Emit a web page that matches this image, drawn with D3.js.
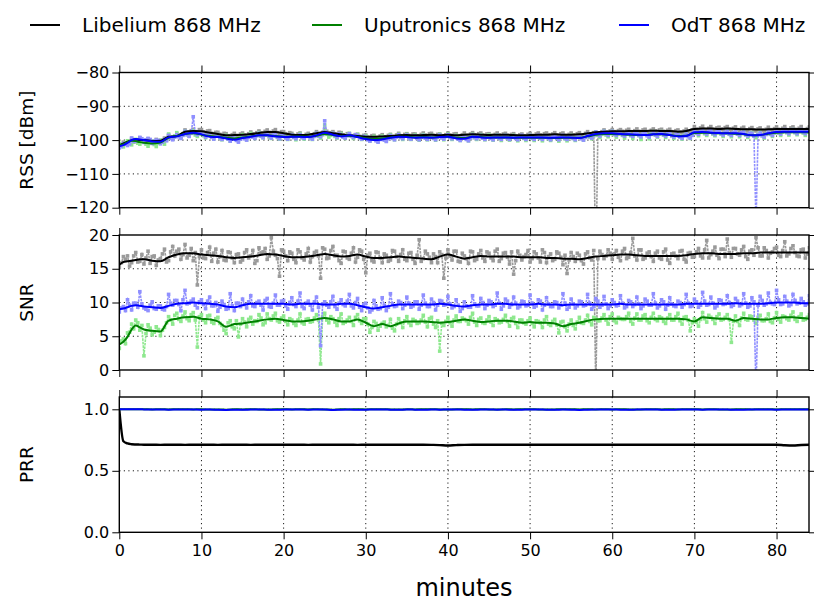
<!DOCTYPE html>
<html><head><meta charset="utf-8">
<script src="https://cdn.jsdelivr.net/npm/d3@7"></script>
<style>body{margin:0;background:#fff}svg text{font-family:"DejaVu Sans",sans-serif;fill:#000}</style>
</head><body><svg id="c" width="814" height="601"></svg>
<script>
// ---------- DATA ----------
const seriesNames = ["Libelium 868 MHz", "Uputronics 868 MHz", "OdT 868 MHz"];
const xTicks = [0, 10, 20, 30, 40, 50, 60, 70, 80];
const rssTicks = [-120, -110, -100, -90, -80];
const snrTicks = [0, 5, 10, 15, 20];
const prrTicks = [0.0, 0.5, 1.0];

// times (minutes) of the smoothed curves
const lineT = [0,0.5,1,1.5,2,2.5,3,4,5,6,7,8,9,10,11,12,13,14,15,16,17,18,19,20,21,22,23,24,25,26,27,28,29,30,31,32,33,34,35,36,37,38,39,40,41,42,43,44,45,46,47,48,49,50,51,52,53,54,55,56,57,58,59,60,61,62,63,64,65,66,67,68,69,70,71,72,73,74,75,76,77,78,79,80,81,82,83,84];

// smoothed RSS [dBm]
const rssLib = [-101.5,-101.0,-100.5,-100.0,-99.8,-100.0,-100.0,-100.3,-100.2,-99.0,-98.8,-97.5,-97.3,-97.4,-97.8,-98.2,-98.6,-98.5,-98.4,-98.2,-97.9,-97.6,-97.6,-98.0,-98.4,-98.5,-98.4,-98.0,-97.6,-98.0,-98.3,-98.6,-98.8,-99.0,-99.0,-98.9,-98.8,-98.6,-98.5,-98.6,-98.5,-98.4,-98.6,-98.4,-98.6,-98.4,-98.3,-98.4,-98.5,-98.4,-98.4,-98.5,-98.6,-98.5,-98.4,-98.4,-98.3,-98.4,-98.4,-98.3,-98.0,-97.7,-97.5,-97.4,-97.4,-97.3,-97.3,-97.3,-97.2,-97.3,-97.3,-97.5,-97.3,-96.7,-96.6,-96.6,-96.7,-96.6,-96.7,-96.8,-96.8,-96.9,-96.8,-96.7,-96.7,-96.7,-96.7,-96.7];
const rssUpu = [-101.5,-101.2,-100.6,-100.2,-100.3,-100.6,-100.8,-101.0,-100.7,-99.3,-98.8,-98.2,-98.0,-98.4,-98.8,-99.0,-99.3,-99.5,-99.2,-98.9,-98.6,-98.6,-98.8,-99.0,-99.0,-98.9,-99.0,-98.7,-98.2,-98.5,-98.8,-98.7,-99.0,-99.5,-99.7,-99.5,-99.2,-99.0,-99.0,-99.2,-99.1,-99.2,-99.1,-99.0,-99.3,-99.4,-99.0,-99.1,-99.2,-99.2,-99.2,-99.3,-99.3,-99.3,-99.3,-99.3,-99.4,-99.3,-99.3,-99.3,-98.9,-98.4,-98.2,-98.2,-98.3,-98.4,-98.5,-98.5,-98.3,-98.3,-98.5,-98.8,-98.7,-97.9,-97.8,-97.9,-98.0,-98.0,-98.1,-98.3,-98.6,-98.5,-98.1,-97.8,-97.7,-97.7,-97.7,-97.7];
const rssOdt = [-101.8,-101.5,-100.8,-100.0,-99.7,-99.8,-100.0,-100.4,-100.5,-99.2,-98.9,-98.2,-97.8,-98.3,-99.0,-99.1,-99.5,-99.9,-99.4,-99.0,-98.6,-98.6,-98.9,-99.1,-99.0,-99.0,-99.1,-98.6,-97.8,-98.4,-98.9,-98.6,-99.1,-99.7,-100.0,-99.8,-99.3,-99.0,-99.1,-99.3,-99.2,-99.3,-99.1,-99.0,-99.5,-99.6,-99.0,-99.2,-99.3,-99.2,-99.2,-99.3,-99.2,-99.2,-99.2,-99.3,-99.3,-99.2,-99.3,-99.4,-98.8,-98.2,-98.0,-98.0,-98.2,-98.3,-98.4,-98.5,-98.3,-98.2,-98.5,-98.9,-98.8,-97.7,-97.6,-97.8,-97.9,-98.0,-98.0,-98.2,-98.6,-98.5,-98.0,-97.6,-97.5,-97.5,-97.5,-97.5];

// smoothed SNR
const snrLib = [15.6,16.0,16.1,16.2,16.3,16.4,16.4,16.2,16.1,16.7,17.1,17.3,17.3,17.1,17.0,16.9,16.7,16.6,16.7,16.8,17.0,17.2,17.1,16.9,16.7,16.7,16.8,17.0,17.2,17.0,16.8,16.9,17.1,16.8,16.6,16.6,16.7,16.8,16.7,16.6,16.5,16.4,16.8,17.1,16.8,16.5,16.7,16.9,16.8,16.8,16.8,16.8,16.7,16.7,16.7,16.6,16.6,16.5,16.5,16.4,16.6,16.8,16.9,17.0,17.1,17.1,17.0,16.9,16.9,16.9,16.9,16.9,17.0,17.2,17.3,17.3,17.2,17.2,17.2,17.3,17.3,17.4,17.4,17.4,17.4,17.4,17.4,17.4];
const snrUpu = [3.8,4.2,4.9,6.0,6.6,6.3,6.0,5.8,5.7,7.3,7.6,7.8,7.9,7.6,7.5,7.2,6.4,6.8,6.9,7.1,7.3,7.5,7.6,7.4,7.2,7.2,7.3,7.5,7.7,7.5,7.2,7.2,7.5,7.0,6.5,6.8,6.5,6.9,7.2,7.2,7.2,7.1,7.0,7.1,7.3,7.5,7.3,7.1,7.2,7.3,7.3,7.2,7.0,7.1,7.0,7.0,6.9,6.5,6.8,7.0,7.3,7.5,7.6,7.6,7.6,7.6,7.6,7.6,7.6,7.6,7.6,7.6,7.5,7.2,7.8,7.7,7.6,7.6,7.3,7.7,7.6,7.5,7.5,7.7,7.8,7.8,7.7,7.6];
const snrOdt = [9.0,9.1,9.3,9.5,9.6,9.5,9.4,9.3,9.2,9.5,9.8,9.9,10.0,9.9,9.8,9.7,9.4,9.3,9.6,9.8,9.8,9.8,9.8,9.8,9.7,9.8,9.8,9.8,9.7,9.7,9.8,9.8,9.6,9.3,9.1,9.3,9.5,9.7,9.7,9.7,9.7,9.7,9.8,9.7,9.5,9.4,9.6,9.7,9.7,9.8,9.8,9.7,9.7,9.7,9.8,9.7,9.7,9.6,9.7,9.7,9.7,9.7,9.7,9.7,9.8,9.7,9.7,9.7,9.7,9.7,9.7,9.7,9.8,9.8,9.8,9.8,9.8,9.8,9.9,9.8,9.8,9.8,9.9,10.0,10.0,10.0,9.9,9.9];

// smoothed PRR
const prrLib = [1.0,0.74,0.722,0.716,0.714,0.713,0.712,0.712,0.711,0.712,0.712,0.711,0.712,0.712,0.712,0.711,0.712,0.712,0.712,0.711,0.712,0.712,0.712,0.712,0.712,0.712,0.711,0.712,0.712,0.712,0.712,0.712,0.711,0.712,0.712,0.712,0.712,0.712,0.712,0.712,0.712,0.711,0.709,0.706,0.709,0.711,0.712,0.712,0.712,0.712,0.712,0.712,0.712,0.712,0.712,0.712,0.712,0.712,0.712,0.712,0.712,0.712,0.712,0.712,0.712,0.712,0.712,0.712,0.712,0.712,0.712,0.712,0.712,0.712,0.712,0.712,0.712,0.712,0.712,0.712,0.712,0.712,0.712,0.712,0.708,0.706,0.710,0.712];
const prrUpu = [1.0,1.0,1.0,1.0,1.0,1.0,1.0,0.999,1.0,0.999,1.0,1.0,0.999,1.0,0.998,0.999,0.997,1.0,0.999,1.0,0.999,0.998,1.0,1.0,0.999,1.0,0.999,1.0,0.999,0.997,1.0,0.999,1.0,0.999,1.0,1.0,0.999,0.998,1.0,0.999,1.0,1.0,0.999,0.998,1.0,1.0,0.999,1.0,0.999,0.998,1.0,0.999,1.0,1.0,0.999,0.998,0.999,1.0,1.0,0.999,1.0,0.999,1.0,0.999,1.0,0.999,0.998,1.0,1.0,0.999,1.0,0.999,1.0,1.0,0.999,1.0,0.999,0.998,1.0,1.0,0.999,1.0,1.0,0.999,1.0,1.0,1.0,1.0];
const prrOdt = [1.0,1.0,1.0,1.0,1.0,1.0,0.999,0.998,0.999,0.997,0.998,0.999,0.998,0.997,0.998,0.996,0.995,0.997,0.996,0.998,0.999,0.997,0.996,0.998,0.999,0.998,0.997,0.998,0.999,0.995,0.997,0.998,0.996,0.997,0.998,0.999,0.997,0.996,0.998,0.997,0.996,0.998,0.997,0.999,0.998,0.997,0.996,0.998,0.999,0.997,0.998,0.996,0.997,0.999,0.998,0.997,0.996,0.998,0.997,0.995,0.997,0.998,0.999,0.998,0.997,0.996,0.998,0.999,0.998,0.997,0.996,0.998,0.999,0.998,0.997,0.998,0.999,0.998,0.996,0.997,0.998,0.999,0.998,0.997,0.998,0.999,0.999,0.999];

// raw samples: set A every 0.5 min from 0 to 84, set B every 0.5 min from 0.25 to 83.75
const rawStep = 0.5;
const rawOffsetB = 0.25;
const rssLibRaw = [-102.0,-100.6,-101.2,-99.5,-100.4,-99.3,-100.6,-99.6,-100.9,-99.8,
-100.6,-99.4,-98.6,-99.5,-98.2,-99.3,-97.0,-97.9,-96.8,-97.6,
-96.9,-97.8,-97.2,-98.4,-97.7,-98.8,-98.1,-99.0,-98.0,-98.9,
-97.9,-98.8,-97.6,-98.5,-97.3,-98.2,-97.0,-97.9,-96.9,-98.1,
-97.5,-98.4,-98.0,-99.0,-97.9,-98.9,-98.0,-98.7,-97.5,-98.4,
-96.9,-97.9,-97.5,-98.5,-97.8,-98.7,-98.1,-99.1,-98.3,-99.2,
-98.5,-99.4,-98.6,-99.5,-98.4,-99.3,-98.3,-99.2,-98.0,-99.0,
-98.1,-98.9,-98.2,-99.1,-97.9,-98.8,-98.0,-98.9,-98.2,-99.1,
-97.9,-98.8,-98.1,-99.0,-97.9,-98.8,-97.8,-98.7,-97.9,-98.8,
-98.1,-98.9,-97.9,-98.8,-98.0,-98.9,-98.1,-99.0,-98.2,-99.0,
-98.0,-98.9,-97.9,-98.8,-97.9,-98.7,-97.8,-98.8,-97.9,-98.8,
-97.9,-98.7,-97.8,-98.5,-97.5,-98.3,-140.0,-98.0,-97.0,-97.9,
-96.9,-97.8,-96.9,-97.7,-96.8,-97.8,-96.7,-97.6,-96.8,-97.7,
-96.7,-97.6,-96.8,-97.7,-96.8,-97.8,-97.0,-97.9,-96.8,-97.7,
-96.0,-97.1,-95.9,-97.0,-96.0,-97.1,-96.2,-97.0,-96.0,-97.1,
-96.1,-97.2,-96.2,-97.3,-96.3,-97.3,-96.4,-97.4,-96.2,-97.3,
-96.1,-97.2,-96.0,-97.1,-96.1,-97.2,-96.0,-97.1,-96.1];
const rssLibRawB = [-101.3,-100.9,-100.3,-100.6,-99.9,-100.2,-100.4,-100.1,-100.5,-100.7,
-100.0,-99.9,-99.1,-98.9,-98.6,-98.1,-97.6,-97.2,-97.5,-96.9,
-97.6,-97.3,-98.0,-97.7,-98.3,-98.0,-98.7,-98.4,-98.6,-98.2,
-98.5,-98.1,-98.2,-97.8,-97.9,-97.4,-97.7,-97.3,-97.8,-97.5,
-98.1,-97.8,-98.6,-98.2,-98.7,-98.3,-98.5,-98.1,-98.2,-97.7,
-97.4,-97.8,-98.1,-97.7,-98.4,-98.1,-98.7,-98.4,-98.9,-98.6,
-99.1,-98.7,-99.2,-98.8,-99.0,-98.6,-98.9,-98.5,-98.7,-98.3,
-98.6,-98.2,-98.7,-98.3,-98.5,-98.1,-98.6,-98.3,-98.7,-98.4,
-98.5,-98.2,-98.7,-98.4,-98.6,-98.2,-98.4,-98.1,-98.5,-98.2,
-98.6,-98.3,-98.5,-98.2,-98.6,-98.3,-98.7,-98.4,-98.7,-98.3,
-98.6,-98.2,-98.5,-98.1,-98.4,-98.2,-98.5,-98.1,-98.6,-98.3,
-98.5,-98.1,-98.4,-98.0,-98.2,-97.8,-97.9,-97.5,-97.6,-97.3,
-97.5,-97.2,-97.4,-97.1,-97.5,-97.2,-97.4,-97.0,-97.5,-97.1,
-97.3,-97.0,-97.4,-97.1,-97.5,-97.2,-97.6,-97.3,-97.5,-97.0,
-96.8,-96.4,-96.9,-96.5,-96.8,-96.4,-96.7,-96.3,-96.8,-96.5,
-96.9,-96.5,-97.0,-96.6,-97.0,-96.7,-97.1,-96.8,-96.9,-96.6,
-96.8,-96.5,-96.9,-96.4,-96.8,-96.5,-96.9,-96.6];
const rssUpuRaw = [-101.0,-102.0,-100.2,-101.4,-99.8,-101.2,-100.0,-101.8,-100.2,-101.9,
-100.0,-101.2,-98.2,-99.6,-97.8,-99.0,-97.4,-98.8,-97.2,-98.9,
-97.8,-99.3,-98.2,-99.6,-98.4,-99.9,-98.6,-100.3,-98.8,-100.2,
-98.4,-99.9,-98.0,-99.5,-97.8,-99.3,-97.9,-99.5,-98.1,-99.7,
-98.3,-99.8,-98.4,-99.9,-98.2,-99.7,-98.4,-99.8,-98.0,-99.4,
-95.5,-99.1,-98.0,-99.4,-98.1,-99.5,-98.0,-99.5,-98.3,-99.8,
-98.8,-100.3,-98.9,-100.5,-98.8,-100.2,-98.5,-99.9,-98.3,-99.8,
-98.3,-99.8,-98.5,-100.0,-98.4,-99.9,-98.6,-100.0,-98.3,-99.9,
-98.2,-99.8,-98.6,-100.1,-98.7,-100.2,-98.3,-99.8,-98.4,-99.9,
-98.5,-100.0,-98.5,-100.1,-98.6,-100.0,-98.6,-100.2,-98.7,-100.1,
-98.6,-100.1,-98.7,-100.2,-98.7,-100.1,-98.8,-100.3,-98.7,-100.2,
-98.6,-100.1,-98.7,-100.0,-98.2,-99.6,-97.7,-99.2,-97.4,-99.0,
-97.4,-99.1,-97.6,-99.4,-97.6,-99.5,-97.8,-99.8,-97.7,-99.6,
-97.5,-99.1,-97.5,-99.2,-97.8,-99.5,-98.0,-99.7,-98.0,-99.5,
-97.1,-98.7,-97.0,-98.6,-97.2,-98.7,-97.3,-98.9,-97.3,-99.0,
-97.4,-99.0,-97.5,-99.2,-97.8,-99.3,-97.7,-99.4,-97.4,-98.9,
-97.0,-98.6,-97.0,-98.5,-96.9,-98.4,-97.0,-98.6,-97.0];
const rssUpuRawB = [-101.6,-100.8,-101.0,-100.5,-100.9,-100.4,-101.2,-100.7,-101.3,-100.9,
-100.5,-99.7,-99.4,-98.8,-98.9,-98.3,-98.4,-97.8,-98.5,-98.1,
-98.7,-98.4,-99.1,-98.8,-99.4,-99.0,-99.7,-99.3,-99.6,-99.2,
-99.4,-98.9,-99.0,-98.6,-98.9,-98.5,-99.1,-98.7,-99.2,-98.8,
-99.3,-98.9,-99.2,-98.8,-99.3,-98.9,-99.2,-98.7,-98.9,-98.4,
-98.3,-98.6,-98.9,-98.5,-99.0,-98.6,-98.9,-98.5,-99.2,-98.9,
-99.7,-99.3,-99.9,-99.5,-99.6,-99.2,-99.3,-98.9,-99.2,-98.8,
-99.3,-98.9,-99.4,-99.0,-99.3,-98.9,-99.4,-99.0,-99.3,-98.9,
-99.2,-98.8,-99.5,-99.1,-99.6,-99.2,-99.3,-98.9,-99.3,-99.0,
-99.4,-99.0,-99.4,-99.1,-99.5,-99.1,-99.4,-99.0,-99.5,-99.1,
-99.5,-99.1,-99.5,-99.2,-99.6,-99.2,-99.5,-99.1,-99.6,-99.2,
-99.5,-99.1,-99.4,-99.0,-99.1,-98.7,-98.6,-98.3,-98.5,-98.1,
-98.4,-98.1,-98.6,-98.2,-98.7,-98.3,-98.7,-98.3,-98.6,-98.2,
-98.4,-98.1,-98.5,-98.2,-98.7,-98.4,-98.9,-98.6,-98.8,-98.4,
-98.0,-97.7,-98.1,-97.7,-98.2,-97.8,-98.2,-97.9,-98.3,-97.9,
-98.2,-97.9,-98.4,-98.1,-98.7,-98.3,-98.7,-98.3,-98.3,-97.9,
-97.9,-97.6,-97.8,-97.5,-97.8,-97.5,-97.9,-97.6];
const rssOdtRaw = [-102.3,-101.0,-101.6,-99.4,-100.3,-99.2,-100.7,-99.5,-101.0,-100.0,
-101.1,-99.8,-98.6,-99.9,-98.4,-99.5,-97.4,-98.9,-93.1,-98.4,
-97.8,-99.1,-98.5,-99.7,-98.6,-99.8,-99.0,-100.3,-99.4,-100.6,
-98.8,-100.0,-98.4,-99.5,-98.0,-99.3,-98.1,-99.4,-98.4,-99.6,
-98.6,-99.7,-98.5,-99.6,-98.4,-99.5,-98.6,-99.7,-98.0,-99.0,
-94.3,-98.2,-98.0,-99.2,-98.4,-99.4,-98.1,-99.2,-98.6,-99.7,
-99.1,-100.3,-99.4,-100.6,-99.2,-100.4,-98.7,-99.9,-98.4,-99.6,
-98.5,-99.7,-98.7,-99.9,-98.6,-99.8,-98.7,-99.9,-98.5,-99.7,
-98.4,-99.6,-98.9,-100.1,-99.0,-100.2,-98.4,-99.6,-98.6,-99.8,
-98.7,-99.9,-98.6,-99.8,-98.6,-99.8,-98.7,-99.9,-98.6,-99.8,
-98.6,-99.8,-98.6,-99.8,-98.7,-99.9,-98.7,-99.9,-98.6,-99.8,
-98.7,-99.9,-98.8,-100.0,-98.2,-99.4,-97.6,-98.8,-97.4,-98.6,
-97.4,-98.6,-97.6,-98.8,-97.7,-98.9,-97.8,-99.0,-97.9,-99.1,
-97.7,-98.9,-97.6,-98.8,-97.9,-99.1,-98.3,-99.5,-98.2,-99.4,
-97.1,-98.3,-97.0,-98.2,-97.2,-98.4,-97.3,-98.5,-97.4,-98.6,
-97.4,-98.6,-97.6,-98.8,-98.0,-125.0,-97.9,-99.1,-97.4,-98.6,
-97.0,-98.2,-96.9,-98.1,-96.9,-98.1,-96.9,-98.1,-96.9];
const rssOdtRawB = [-101.9,-101.2,-101.1,-100.4,-100.0,-99.6,-99.9,-99.8,-100.3,-100.1,
-100.6,-100.2,-99.5,-99.1,-99.0,-98.6,-98.4,-98.0,-98.0,-97.6,
-98.4,-98.1,-99.2,-98.8,-99.3,-98.9,-99.7,-99.3,-100.1,-99.7,
-99.6,-99.2,-99.1,-98.7,-98.8,-98.4,-98.9,-98.5,-99.1,-98.7,
-99.3,-98.9,-99.2,-98.8,-99.2,-98.8,-99.3,-98.9,-98.8,-98.3,
-97.9,-98.2,-98.6,-98.2,-99.1,-98.7,-98.8,-98.4,-99.3,-98.9,
-99.9,-99.5,-100.2,-99.8,-100.0,-99.6,-99.5,-99.1,-99.2,-98.8,
-99.3,-98.9,-99.5,-99.1,-99.4,-99.0,-99.5,-99.1,-99.3,-98.9,
-99.2,-98.8,-99.7,-99.3,-99.8,-99.4,-99.2,-98.8,-99.4,-99.0,
-99.5,-99.1,-99.4,-99.0,-99.4,-99.0,-99.5,-99.1,-99.4,-99.0,
-99.4,-99.0,-99.4,-99.0,-99.5,-99.1,-99.4,-99.0,-99.5,-99.1,
-99.5,-99.1,-99.6,-99.2,-99.0,-98.6,-98.4,-98.0,-98.2,-97.8,
-98.2,-97.8,-98.4,-98.0,-98.5,-98.1,-98.6,-98.2,-98.7,-98.3,
-98.5,-98.1,-98.4,-98.0,-98.7,-98.3,-99.1,-98.7,-99.0,-98.6,
-97.9,-97.5,-97.8,-97.4,-98.0,-97.6,-98.1,-97.7,-98.2,-97.8,
-98.2,-97.8,-98.4,-98.0,-98.8,-98.4,-98.7,-98.3,-98.2,-97.8,
-97.8,-97.4,-97.7,-97.3,-97.7,-97.3,-97.7,-97.3];

const snrLibRaw = [15.2,16.8,16.9,15.9,17.4,16.1,15.7,17.6,16.8,15.5,
16.5,17.9,16.2,18.3,17.6,16.4,18.6,17.0,16.2,12.6,
17.8,16.5,18.2,17.3,16.0,17.7,16.2,17.4,15.9,17.2,
16.3,17.8,16.9,15.8,18.1,17.5,16.4,19.6,17.0,13.9,
17.6,16.2,17.3,15.9,17.5,16.3,18.0,16.8,17.6,13.6,
17.9,16.6,18.3,17.0,15.8,17.5,16.4,18.1,16.7,17.6,
14.4,17.3,16.0,17.4,15.9,17.0,16.3,17.6,16.1,17.8,
16.2,17.4,15.8,19.3,16.5,17.2,15.9,16.8,17.5,13.6,
17.8,16.3,17.6,16.0,16.9,15.8,17.5,16.4,17.7,16.1,
17.3,16.2,17.9,16.5,17.4,15.7,14.2,17.6,16.3,17.1,
16.0,17.5,16.6,17.8,15.9,17.2,16.4,17.3,15.6,14.3,
17.4,16.1,17.0,15.7,17.5,16.3,-3.0,17.6,16.5,17.8,
16.4,17.7,16.2,18.0,16.7,19.5,16.3,17.8,16.6,17.5,
16.1,17.6,16.4,17.9,15.8,17.3,16.5,17.7,16.0,17.4,
16.8,18.0,16.6,19.2,17.1,18.2,16.5,17.9,19.4,16.7,
18.0,17.0,18.3,16.4,17.8,19.6,16.9,18.1,16.6,17.5,
18.2,16.8,19.0,17.2,18.4,16.9,17.8,16.6,18.1];
const snrLibRawB = [15.9,16.4,15.4,16.9,16.0,17.1,16.6,15.8,16.9,16.3,
17.2,16.0,17.5,16.9,17.9,17.1,16.6,18.0,17.4,16.8,
16.6,17.4,16.1,17.9,16.8,16.3,17.5,16.6,17.1,16.0,
17.4,16.6,17.7,16.2,17.3,18.0,16.9,17.6,16.5,17.8,
16.9,17.5,16.4,17.8,16.6,17.2,16.0,17.4,16.9,18.1,
16.5,17.7,16.9,16.2,17.6,16.6,17.3,16.0,17.8,16.4,
17.0,16.2,17.5,16.6,17.2,16.1,17.7,16.8,17.1,16.4,
17.3,16.4,17.0,16.1,17.6,16.7,17.2,15.9,17.1,16.6,
16.9,17.6,16.1,17.3,16.5,17.6,16.2,17.2,16.6,17.5,
16.6,17.6,16.1,17.3,16.7,17.5,16.2,17.0,16.8,17.7,
16.5,17.2,16.0,17.4,16.8,16.2,17.5,16.7,17.0,16.3,
16.8,17.3,16.2,17.2,16.6,17.7,16.5,17.1,16.9,17.3,
17.2,16.7,17.6,16.5,17.4,16.9,17.8,16.4,17.3,16.8,
17.3,16.6,17.5,16.3,17.2,16.9,17.6,16.4,17.3,16.7,
17.5,16.9,17.8,16.6,17.6,17.0,17.9,16.8,17.4,18.0,
17.2,17.8,16.8,17.6,17.0,18.1,16.9,17.7,17.3,18.0,
17.0,17.7,16.9,18.0,17.4,16.8,17.9,17.2];
const snrUpuRaw = [3.2,4.6,5.5,6.8,7.4,5.9,2.1,6.7,5.2,6.4,
5.1,6.3,7.9,6.8,8.4,7.2,8.6,7.3,8.5,3.4,
8.2,7.0,8.1,6.9,7.8,6.6,5.4,7.3,6.1,4.9,
7.6,6.4,7.8,7.3,8.2,6.7,8.3,7.4,8.4,7.1,
8.0,6.7,7.4,6.6,8.3,6.8,7.6,7.2,8.2,0.9,
8.4,7.0,7.6,6.6,8.3,7.1,7.8,6.6,8.2,6.9,
7.6,5.6,7.2,5.9,6.9,6.4,7.5,5.8,7.6,6.3,
7.9,6.6,7.3,7.0,8.1,6.4,7.8,6.3,2.8,6.6,
7.8,6.5,8.0,7.2,7.5,6.8,8.4,6.6,7.7,6.9,
7.9,6.6,7.4,7.1,8.1,6.5,7.8,6.3,7.4,6.8,
7.7,6.4,7.2,6.3,7.9,6.6,7.5,5.5,7.2,5.8,
7.4,6.1,7.8,6.9,8.1,6.7,7.6,7.3,8.2,6.8,
8.3,7.0,7.6,7.5,8.4,6.8,8.3,7.4,8.2,7.0,
8.4,7.3,7.7,6.9,8.2,7.4,8.4,6.8,7.9,5.8,
7.6,6.5,8.5,7.1,7.8,6.9,8.3,7.5,8.2,4.1,
8.0,6.6,8.4,7.4,7.9,6.9,8.1,7.3,8.3,7.0,
8.5,7.1,7.9,7.4,8.6,7.2,8.3,7.5,8.2];
const snrUpuRawB = [4.3,3.9,5.6,6.1,7.0,6.6,5.4,6.2,5.6,6.0,
5.9,7.0,7.4,8.1,7.5,8.0,7.6,8.2,7.4,7.9,
7.4,8.0,7.1,7.6,6.9,5.9,7.0,6.4,7.3,6.8,
7.1,7.5,6.8,7.2,7.7,7.0,7.6,8.0,7.3,7.7,
7.2,7.6,6.9,7.4,7.0,7.5,7.1,7.7,7.4,7.9,
7.4,7.9,7.1,7.6,6.9,7.4,7.2,7.8,7.3,7.6,
6.8,6.3,6.9,6.5,7.1,6.6,6.2,6.8,7.0,7.3,
7.0,7.5,6.9,7.4,7.1,7.6,6.8,7.3,6.9,7.2,
7.0,7.4,7.2,7.7,7.3,7.8,7.1,7.5,7.0,7.4,
7.1,7.6,7.0,7.5,7.2,7.6,6.9,7.4,7.0,7.3,
6.9,7.3,7.0,7.4,6.8,7.2,6.7,7.1,6.4,6.8,
6.6,7.1,7.0,7.4,7.2,7.8,7.3,7.7,7.4,7.9,
7.3,7.8,7.5,7.9,7.2,7.7,7.4,8.0,7.3,7.8,
7.5,7.9,7.2,7.7,7.4,7.9,7.3,7.8,7.4,7.0,
7.1,7.5,7.6,8.1,7.5,7.9,7.4,7.8,7.5,7.2,
7.2,7.7,7.5,8.0,7.4,7.8,7.3,7.6,7.2,7.7,
7.5,8.0,7.6,8.1,7.5,7.9,7.4,7.8];
const snrOdtRaw = [8.6,9.4,10.4,8.9,9.9,11.6,9.2,8.8,10.1,9.0,
9.5,8.9,11.2,9.6,10.3,8.8,11.8,9.9,10.5,9.2,
10.4,9.1,10.8,9.5,8.7,10.2,9.0,11.3,8.8,9.9,
10.5,9.2,11.0,9.4,10.2,8.9,10.6,9.3,11.1,9.6,
10.3,9.0,10.7,9.4,11.4,9.1,10.2,8.9,10.8,3.6,
10.1,9.3,10.9,9.0,10.4,9.5,11.2,9.2,10.6,8.8,
9.9,8.6,10.3,9.0,10.7,8.8,11.3,9.4,10.2,9.1,
10.8,9.3,10.1,9.0,11.1,9.4,10.5,8.9,10.3,9.6,
10.9,9.2,10.4,8.7,10.1,9.3,11.0,9.5,10.6,9.1,
10.3,9.4,11.4,9.0,10.5,9.3,10.8,9.2,10.2,9.5,
11.1,9.3,10.4,8.9,10.7,9.4,10.1,9.2,11.3,9.0,
10.5,9.2,10.2,9.5,11.2,9.0,10.6,9.3,10.9,9.1,
10.4,9.5,11.0,9.2,10.3,9.4,10.8,9.1,10.5,9.6,
11.3,9.2,10.4,9.0,10.7,9.5,10.2,9.3,11.2,9.4,
10.5,9.3,11.5,9.6,10.8,9.2,10.4,9.7,11.0,9.4,
10.6,9.5,11.3,9.3,10.7,-3.0,10.9,9.6,11.4,9.8,
11.8,9.7,10.9,9.5,11.2,9.8,10.6,9.6,11.0];
const snrOdtRawB = [9.2,8.8,9.6,9.9,9.3,9.8,9.0,9.6,9.1,9.5,
9.0,9.4,9.9,10.3,9.7,10.4,9.8,10.2,9.6,10.1,
9.7,10.2,9.5,10.0,9.3,9.7,9.1,9.5,9.9,9.4,
9.7,10.1,9.5,10.0,9.6,10.3,9.4,9.9,9.6,10.2,
9.5,10.0,9.7,10.2,9.4,9.9,9.6,10.1,9.3,9.8,
9.6,10.1,9.4,9.9,9.7,10.2,9.5,10.0,9.3,9.7,
9.2,8.9,9.5,9.1,9.6,9.3,9.8,9.5,10.0,9.6,
9.9,9.5,10.1,9.6,9.9,9.4,10.0,9.6,10.2,9.7,
9.8,9.4,9.6,9.1,9.5,9.3,9.8,9.5,10.0,9.6,
10.1,9.6,9.9,9.5,10.2,9.7,9.9,9.4,10.1,9.6,
9.9,9.5,10.2,9.6,9.8,9.4,10.0,9.6,9.9,9.3,
9.8,9.5,10.1,9.6,9.9,9.4,10.2,9.6,9.8,9.5,
10.0,9.6,9.9,9.4,10.1,9.7,9.8,9.5,10.2,9.6,
9.9,9.5,10.1,9.6,9.8,9.4,10.0,9.7,9.9,9.5,
10.1,9.6,10.2,9.7,9.9,9.5,10.3,9.8,10.0,9.6,
10.2,9.7,9.9,9.5,10.1,9.6,10.3,9.8,10.0,9.7,
10.4,9.8,10.2,9.7,10.3,9.9,10.1,9.8];

// ---------- DRAWING ----------
const svg = d3.select("#c");
const colLine = ["#000000", "#008000", "#0000ff"];
const colRaw = ["#9a9a9a", "#8ee88e", "#8f8fff"];
const x = d3.scaleLinear().domain([0, 83.95]).range([119.3, 809]);
const merge = (a, b) => a.map((v, i) => [i * rawStep, v])
  .concat(b.map((v, i) => [rawOffsetB + i * rawStep, v]))
  .sort((p, q) => p[0] - q[0]);
const minus = s => s.replace("-", "\u2212");

const panels = [
  {top: 72.5, bottom: 207.7, domain: [-120, -80], ticks: rssTicks, fmt: d => minus(String(d)), label: "RSS [dBm]",
   raw: [merge(rssLibRaw, rssLibRawB), merge(rssUpuRaw, rssUpuRawB), merge(rssOdtRaw, rssOdtRawB)], lines: [rssLib, rssUpu, rssOdt]},
  {top: 235, bottom: 370, domain: [0, 20], ticks: snrTicks, fmt: d => String(d), label: "SNR",
   raw: [merge(snrLibRaw, snrLibRawB), merge(snrUpuRaw, snrUpuRawB), merge(snrOdtRaw, snrOdtRawB)], lines: [snrLib, snrUpu, snrOdt]},
  {top: 397, bottom: 532.3, domain: [0, 1.1], ticks: prrTicks, fmt: d3.format(".1f"), label: "PRR",
   raw: null, lines: [prrLib, prrUpu, prrOdt]}
];

panels.forEach((p, pi) => {
  const y = d3.scaleLinear().domain(p.domain).range([p.bottom, p.top]);
  const g = svg.append("g");
  const cid = "clip" + pi;
  svg.append("clipPath").attr("id", cid).append("rect")
    .attr("x", x.range()[0]).attr("y", p.top).attr("width", x.range()[1] - x.range()[0]).attr("height", p.bottom - p.top);

  // grid
  const grid = g.append("g").attr("stroke", "#000").attr("stroke-width", 0.9).attr("stroke-dasharray", "1.2,3.3");
  xTicks.filter(t => t > 0).forEach(t => grid.append("line").attr("x1", x(t)).attr("x2", x(t)).attr("y1", p.top).attr("y2", p.bottom));
  p.ticks.filter(t => y(t) > p.top + 1 && y(t) < p.bottom - 1).forEach(t => grid.append("line").attr("x1", x.range()[0]).attr("x2", x.range()[1]).attr("y1", y(t)).attr("y2", y(t)));

  const plot = g.append("g").attr("clip-path", `url(#${cid})`);

  // raw samples
  if (p.raw) {
    p.raw.forEach((pts, si) => {
      plot.append("path").attr("d", d3.line().x(d => x(d[0])).y(d => y(d[1]))(pts))
        .attr("fill", "none").attr("stroke", colRaw[si]).attr("stroke-width", 1.6).attr("stroke-dasharray", "2.6,0.9");
      plot.append("g").selectAll("rect").data(pts).join("rect")
        .attr("x", d => x(d[0]) - 1.8).attr("y", d => y(d[1]) - 1.8).attr("width", 3.6).attr("height", 3.6)
        .attr("fill", colRaw[si]);
    });
  }

  // smoothed lines
  p.lines.forEach((vals, si) => {
    const pts = vals.map((v, i) => [lineT[i], v]);
    plot.append("path").attr("d", d3.line().curve(d3.curveMonotoneX).x(d => x(d[0])).y(d => y(d[1]))(pts))
      .attr("fill", "none").attr("stroke", colLine[si]).attr("stroke-width", pi === 2 && si === 0 ? 2.4 : 2);
  });

  // spines
  g.append("rect").attr("x", x.range()[0]).attr("y", p.top).attr("width", x.range()[1] - x.range()[0]).attr("height", p.bottom - p.top)
    .attr("fill", "none").attr("stroke", "#000").attr("stroke-width", 1.4);

  // axes
  const styleAxis = a => { a.select(".domain").remove(); a.selectAll("line").attr("stroke", "#000").attr("stroke-width", 1); a.selectAll("text").attr("font-size", 16).attr("font-family", "DejaVu Sans"); };
  g.append("g").attr("transform", `translate(${x.range()[0]},0)`)
    .call(d3.axisLeft(y).tickValues(p.ticks).tickSize(7).tickPadding(3).tickFormat(p.fmt)).call(styleAxis);
  g.append("g").attr("transform", `translate(${x.range()[1]},0)`)
    .call(d3.axisRight(y).tickValues(p.ticks).tickSize(7).tickFormat("")).call(styleAxis);
  g.append("g").attr("transform", `translate(0,${p.top})`)
    .call(d3.axisTop(x).tickValues(xTicks).tickSize(7).tickFormat("")).call(styleAxis);
  g.append("g").attr("transform", `translate(0,${p.bottom})`)
    .call(d3.axisBottom(x).tickValues(xTicks).tickSize(7).tickPadding(5).tickFormat(pi === 2 ? d3.format("d") : "")).call(styleAxis);

  svg.append("text").attr("transform", `translate(28,${(p.top + p.bottom) / 2}) rotate(-90)`)
    .attr("text-anchor", "middle").attr("dominant-baseline", "middle").attr("font-size", 18.5).text(p.label);
});

svg.append("text").attr("x", 464).attr("y", 596).attr("text-anchor", "middle").attr("font-size", 24).text("minutes");

// legend
const legX = [30, 312, 619];
seriesNames.forEach((n, i) => {
  svg.append("line").attr("x1", legX[i]).attr("x2", legX[i] + 30).attr("y1", 25).attr("y2", 25).attr("stroke", colLine[i]).attr("stroke-width", 2);
  svg.append("text").attr("x", legX[i] + 52).attr("y", 32).attr("font-size", 20).text(n);
});
</script></body></html>
